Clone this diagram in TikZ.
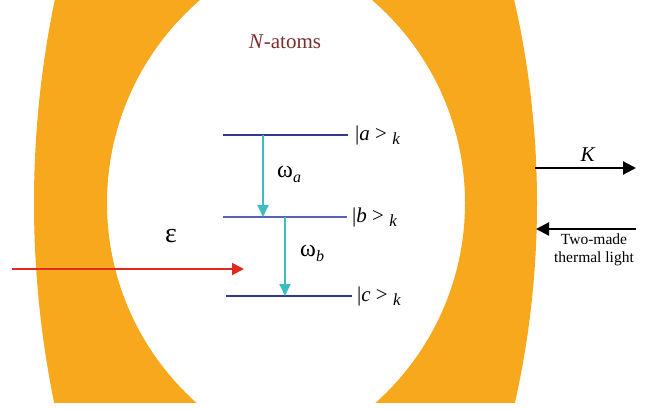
\documentclass[tikz,border=0pt]{standalone}
\usepackage{fontspec}
\setmainfont{Liberation Serif}
\usetikzlibrary{arrows.meta}
\definecolor{ring}{HTML}{F8A81C}
\definecolor{lvl}{HTML}{2E3A92}
\definecolor{lvlb}{HTML}{5563B0}
\definecolor{tealarr}{HTML}{3DBDBF}
\definecolor{redarr}{HTML}{E02A1E}
\definecolor{maroontxt}{HTML}{7A2E2E}
\newcommand{\fs}[1]{\fontsize{#1}{#1}\selectfont}
\begin{document}
\begin{tikzpicture}[x=1pt,y=-1pt,
  levelline/.style={draw=lvl, line width=2.2pt},
  trans/.style={draw=tealarr, line width=1.8pt, -{Triangle[length=12pt,width=11pt]}},
  pump/.style={draw=redarr, line width=1.8pt, -{Triangle[length=12pt,width=12pt]}},
  outarr/.style={draw=black, line width=2.2pt, -{Triangle[length=13pt,width=13pt]}},
  statelbl/.style={anchor=base west, inner sep=0pt, font=\fs{21}},
  freqlbl/.style={anchor=base west, inner sep=0pt, font=\fs{24}},
  sidetxt/.style={inner sep=0pt, font=\fs{15.5}, align=center}
]
\useasboundingbox (0,0) rectangle (653,409);
% cavity mirrors
\begin{scope}
  \clip (0,1) rectangle (286,402);
  \fill[ring, even odd rule] (1026,203) circle[radius=992pt] (375,203) circle[radius=268pt];
\end{scope}
\begin{scope}
  \clip (286,1) rectangle (653,402);
  \fill[ring, even odd rule] (-370,203) circle[radius=907pt] (197,203) circle[radius=268pt];
\end{scope}
% title
\node[inner sep=0pt, text=maroontxt, font=\fs{21}] (title) at (285,42) {\textit{N}-atoms};
% levels
\coordinate (aL) at (223,135); \coordinate (aR) at (348,135);
\coordinate (bL) at (223,217); \coordinate (bR) at (347,217);
\coordinate (cL) at (226,296); \coordinate (cR) at (352,296);
\draw[levelline] (aL) -- (aR);
\draw[draw=lvlb, line width=1.7pt] (bL) -- (bR);
\draw[levelline] (cL) -- (cR);
\node[statelbl] (la) at (355,140) {|\textit{a} > \raisebox{-4pt}{\fs{17}\textit{k}}};
\node[statelbl] (lb) at (352,222) {|\textit{b} > \raisebox{-4pt}{\fs{17}\textit{k}}};
\node[statelbl] (lc) at (357,301) {|\textit{c} > \raisebox{-4pt}{\fs{17}\textit{k}}};
% transitions
\coordinate (ta) at (263,135); \coordinate (tb) at (263,217);
\coordinate (ua) at (285,217); \coordinate (ub) at (285,296);
\draw[trans] (ta) -- (tb);
\draw[trans] (ua) -- (ub);
\node[freqlbl] (wa) at (277,177) {ω\raisebox{-5pt}{\fs{16}\textit{a}}};
\node[freqlbl] (wb) at (300,256) {ω\raisebox{-5pt}{\fs{16}\textit{b}}};
% pump field
\coordinate (ps) at (12,269); \coordinate (pe) at (244,269);
\draw[pump] (ps) -- (pe);
\node[inner sep=0pt, font=\fs{28}] (eps) at (171,236) {ε};
% output and thermal light
\coordinate (ks) at (535,168); \coordinate (ke) at (636,168);
\draw[outarr] (ks) -- (ke);
\node[inner sep=0pt, font=\fs{21}] (klbl) at (588,155) {\textit{K}};
\coordinate (ts) at (636,229); \coordinate (te) at (536,229);
\draw[outarr] (ts) -- (te);
\node[sidetxt] (tlbl) at (594,250) {Two-made\\[2pt]thermal light};
\end{tikzpicture}
\end{document}
